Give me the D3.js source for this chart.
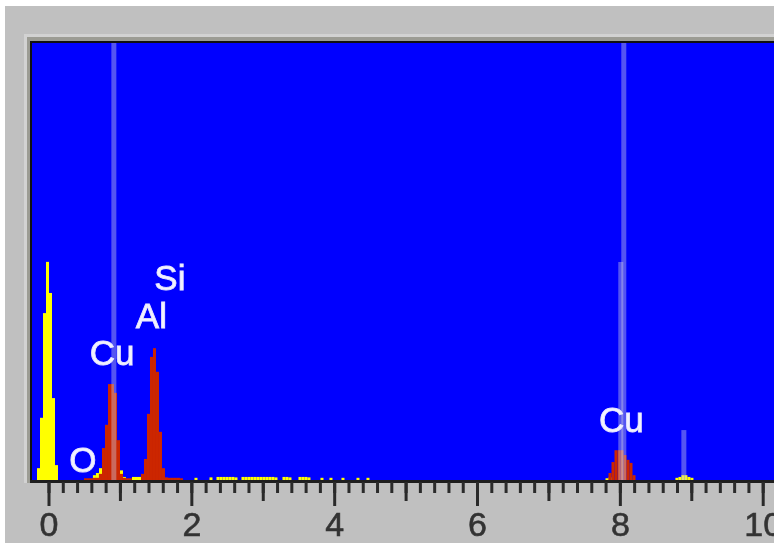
<!DOCTYPE html>
<html>
<head>
<meta charset="utf-8">
<script src="https://cdn.jsdelivr.net/npm/d3@7/dist/d3.min.js"></script>
<style>
  html, body { margin: 0; padding: 0; background: #ffffff; }
  svg { display: block; filter: blur(0.35px); }
</style>
</head>
<body>
<svg id="chart" width="774" height="543"></svg>
<script>
// ---- Data (energy in keV, counts in arbitrary units) ----
const binWidth = 0.042;

// full spectrum (yellow)
const spectrumEnergy = [
  -0.140, -0.098, -0.056, -0.014, 0.028, 0.070, 0.112,
  0.643, 0.685, 0.728, 0.770, 0.980, 1.022, 1.064,
  1.190, 1.232, 1.274, 1.316,
  2.065, 2.275, 2.373, 2.415, 2.457, 2.499, 2.541, 2.583, 2.625,
  2.723, 2.765, 2.807, 2.849, 2.891, 2.933, 2.975, 3.017, 3.059, 3.101, 3.143, 3.185,
  3.297, 3.339, 3.381, 3.521, 3.563, 3.605, 3.647, 3.829, 3.955, 4.123, 4.333, 4.473,
  7.820, 7.862,
  8.799, 8.841, 8.883, 8.925, 8.967, 9.009
];
const spectrumCounts = [
  27, 142, 381, 498, 427, 187, 34,
  11, 16, 27, 30, 23, 22, 7,
  7, 7, 7, 8,
  5, 6, 7, 7, 7, 7, 7, 7, 6,
  7, 7, 7, 7, 7, 7, 7, 7, 7, 7, 7, 6,
  7, 7, 6, 7, 7, 7, 6, 5, 5, 5, 5, 5,
  4, 6,
  5, 7, 11, 11, 7, 5
];

// element peaks (red)
const peakEnergy = [
  0.518, 0.560, 0.602, 0.644, 0.686, 0.728, 0.770, 0.812, 0.854, 0.896, 0.938, 0.980, 1.022, 1.064, 1.106, 1.148,
  1.316, 1.358, 1.400, 1.442, 1.484, 1.526, 1.568, 1.610, 1.652, 1.694, 1.736, 1.778, 1.820, 1.862,
  7.862, 7.904, 7.946, 7.988, 8.030, 8.072, 8.114, 8.156, 8.198
];
const peakCounts = [
  4, 4, 4, 5, 5, 14, 73, 126, 219, 219, 199, 91, 14, 5, 4, 4,
  14, 48, 151, 281, 301, 247, 110, 27, 6, 5, 5, 5, 5, 4,
  16, 41, 68, 68, 68, 57, 46, 39, 11
];

// marker lines (null top = full height)
const markerEnergy = [0.915, 8.055, 8.013, 8.896];
const markerTop    = [null, null, 498, 114];

// element labels
const labelText   = ["Cu", "Al", "Si", "O", "Cu"];
const labelEnergy = [0.89, 1.44, 1.70, 0.48, 8.02];
const labelLevel  = [263, 347, 434, 18, 110];

// axis ticks
const majorTicks  = [0, 2, 4, 6, 8, 10];
const mediumTicks = [1, 3, 5, 7, 9];
const minorTicks  = d3.range(0, 52).map(i => +(i * 0.2).toFixed(1));

// ---- Drawing ----
const svg = d3.select("#chart");
const W = 774, H = 543;

const plotLeft = 32, plotTop = 43, baseY = 480;
const x = d3.scaleLinear().domain([0, 10]).range([48.5, 762.7]);
const y = d3.scaleLinear().domain([0, 1000]).range([baseY, 42]);

// background frame
svg.append("rect").attr("x", 5).attr("y", 6).attr("width", W - 5).attr("height", H - 6).attr("fill", "#c0c0c0");
svg.append("rect").attr("x", 24).attr("y", 34).attr("width", W - 24).attr("height", baseY - 34 + 3).attr("fill", "#d2d2d2");
svg.append("rect").attr("x", 27).attr("y", 37).attr("width", W - 27).attr("height", baseY - 37 + 3).attr("fill", "#9c9c94");
svg.append("rect").attr("x", 30).attr("y", 41).attr("width", W - 30).attr("height", baseY - 41 + 3).attr("fill", "#101010");
svg.append("rect").attr("x", plotLeft).attr("y", plotTop).attr("width", W - plotLeft).attr("height", baseY - plotTop).attr("fill", "#0000ff");

const bw = x(binWidth) - x(0);

// spectrum bars
const spec = spectrumEnergy.map((e, i) => ({ e, c: spectrumCounts[i] }));
svg.append("g").selectAll("rect").data(spec).join("rect")
  .attr("x", d => x(d.e) - bw / 2)
  .attr("width", bw)
  .attr("y", d => y(d.c))
  .attr("height", d => y(0) - y(d.c))
  .attr("fill", "#ffff00");

// peak bars
const peaks = peakEnergy.map((e, i) => ({ e, c: peakCounts[i] }));
svg.append("g").selectAll("rect").data(peaks).join("rect")
  .attr("x", d => x(d.e) - bw / 2)
  .attr("width", bw)
  .attr("y", d => y(d.c))
  .attr("height", d => y(0) - y(d.c))
  .attr("fill", "#cc2600");

// marker lines
const markers = markerEnergy.map((e, i) => ({ e, top: markerTop[i] }));
svg.append("g").selectAll("line").data(markers).join("line")
  .attr("x1", d => x(d.e)).attr("x2", d => x(d.e))
  .attr("y1", d => d.top === null ? plotTop : y(d.top))
  .attr("y2", baseY)
  .attr("stroke", "rgb(200,200,225)")
  .attr("stroke-opacity", 0.42)
  .attr("stroke-width", 5);

// labels
const labels = labelText.map((t, i) => ({ t, e: labelEnergy[i], c: labelLevel[i] }));
svg.append("g").selectAll("text").data(labels).join("text")
  .attr("x", d => x(d.e))
  .attr("y", d => y(d.c))
  .attr("text-anchor", "middle")
  .attr("font-family", "Liberation Sans, Arial, sans-serif")
  .attr("font-size", 35)
  .attr("fill", "#f2f2ff")
  .attr("stroke", "#e8e8ff")
  .attr("stroke-width", 0.8)
  .text(d => d.t);

// axis line
svg.append("rect").attr("x", 30).attr("y", baseY).attr("width", W - 30).attr("height", 3).attr("fill", "#1e1e1e");

// ticks
const axisY = baseY + 2;
function styleAxis(g) {
  g.select(".domain").remove();
  g.selectAll(".tick line").attr("stroke", "#2a2a2a").attr("stroke-width", 3);
}
svg.append("g").attr("transform", `translate(0,${axisY})`)
  .call(d3.axisBottom(x).tickValues(minorTicks).tickSize(11).tickFormat(""))
  .call(styleAxis);
svg.append("g").attr("transform", `translate(0,${axisY})`)
  .call(d3.axisBottom(x).tickValues(mediumTicks).tickSize(19).tickFormat(""))
  .call(styleAxis);
const major = svg.append("g").attr("transform", `translate(0,${axisY})`)
  .call(d3.axisBottom(x).tickValues(majorTicks).tickSize(24).tickPadding(6).tickFormat(d3.format("d")))
  .call(styleAxis);
major.selectAll(".tick text")
  .attr("font-family", "Liberation Sans, Arial, sans-serif")
  .attr("font-size", 34)
  .attr("fill", "#333333")
  .attr("stroke", "#333333")
  .attr("stroke-width", 0.6);
</script>
</body>
</html>
